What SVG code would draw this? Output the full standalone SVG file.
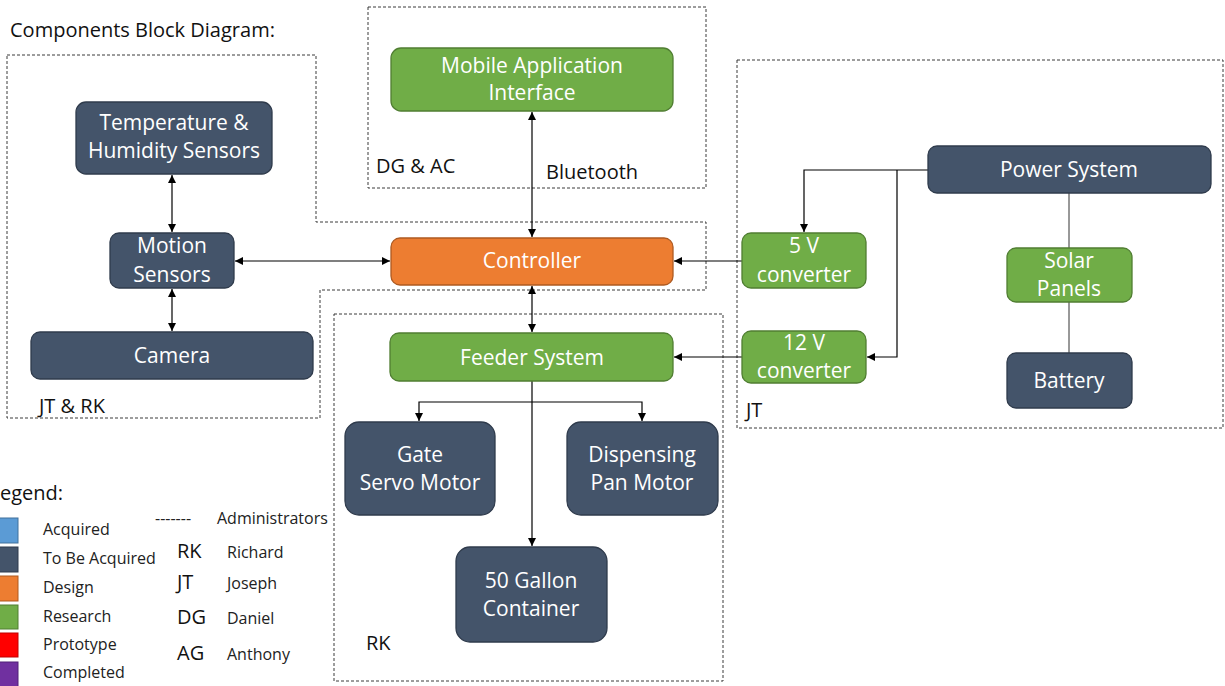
<svg xmlns="http://www.w3.org/2000/svg" width="1225" height="686" viewBox="0 0 1225 686">
  <style>
    .zone { fill: none; stroke: #3a3a3a; stroke-width: 1; stroke-dasharray: 3 2; }
    .node { stroke-width: 1.3; }
    .green { fill: #70AD47; stroke: #507E32; }
    .dark { fill: #44546A; stroke: #2F3B4C; }
    .orange { fill: #ED7D31; stroke: #AE5A21; }
    .nt { font-family: "Open Sans", "Liberation Sans", sans-serif; font-size: 21px; fill: #ffffff; text-anchor: middle; }
    .lbl { font-family: "Open Sans", "Liberation Sans", sans-serif; font-size: 20px; fill: #111111; }
    .leg { font-family: "Open Sans", "Liberation Sans", sans-serif; font-size: 16px; fill: #222222; }
    .abbr { font-family: "Open Sans", "Liberation Sans", sans-serif; font-size: 20px; fill: #111111; }
    .wire { fill: none; stroke: #000000; stroke-width: 1.2; }
    .plain { fill: none; stroke: #333333; stroke-width: 1; }
  </style>
  <defs>
    <marker id="arr" viewBox="0 0 10 10" refX="10" refY="5" markerWidth="8" markerHeight="8" markerUnits="userSpaceOnUse" orient="auto-start-reverse">
      <path d="M0,0 L10,5 L0,10 z" fill="#000000"/>
    </marker>
  </defs>

  <rect width="1225" height="686" fill="#ffffff"/>

  <text class="lbl" x="10" y="37">Components Block Diagram:</text>

  <!-- ownership zones -->
  <g id="zones">
    <path class="zone" d="M7,55 H316 V222 H706 V290 H320 V418 H7 Z"/>
    <rect class="zone" x="368" y="7" width="338" height="181"/>
    <rect class="zone" x="737" y="60" width="486" height="368"/>
    <rect class="zone" x="334" y="314" width="389" height="367"/>
    <text class="lbl" x="376" y="173">DG &amp; AC</text>
    <text class="lbl" x="546" y="179">Bluetooth</text>
    <text class="lbl" x="39" y="413">JT &amp; RK</text>
    <text class="lbl" x="746" y="417">JT</text>
    <text class="lbl" x="366" y="650">RK</text>
  </g>

  <!-- connectors -->
  <g id="connectors">
    <line class="wire" x1="532" y1="112" x2="532" y2="237" marker-start="url(#arr)" marker-end="url(#arr)"/>
    <line class="wire" x1="172" y1="175" x2="172" y2="232" marker-start="url(#arr)" marker-end="url(#arr)"/>
    <line class="wire" x1="172" y1="289" x2="172" y2="331" marker-start="url(#arr)" marker-end="url(#arr)"/>
    <line class="wire" x1="235" y1="261" x2="390" y2="261" marker-start="url(#arr)" marker-end="url(#arr)"/>
    <line class="wire" x1="742" y1="261" x2="674" y2="261" marker-end="url(#arr)"/>
    <line class="wire" x1="532" y1="286" x2="532" y2="332" marker-start="url(#arr)" marker-end="url(#arr)"/>
    <line class="wire" x1="742" y1="357" x2="674" y2="357" marker-end="url(#arr)"/>
    <polyline class="wire" points="928,170 804,170 804,232" marker-end="url(#arr)"/>
    <polyline class="wire" points="897,170 897,357 867,357" marker-end="url(#arr)"/>
    <line class="plain" x1="1069" y1="193" x2="1069" y2="248"/>
    <line class="plain" x1="1069" y1="302" x2="1069" y2="353"/>
    <line class="wire" x1="532" y1="381" x2="532" y2="546" marker-end="url(#arr)"/>
    <polyline class="wire" points="419,421 419,402 642,402 642,421" marker-start="url(#arr)" marker-end="url(#arr)"/>
  </g>

  <!-- components -->
  <g id="mobile-app">
    <rect class="node green" x="391" y="48" width="282" height="63" rx="10"/>
    <text class="nt" x="532" y="73">Mobile Application</text>
    <text class="nt" x="532" y="100">Interface</text>
  </g>
  <g id="controller">
    <rect class="node orange" x="391" y="238" width="282" height="47" rx="9"/>
    <text class="nt" x="532" y="268">Controller</text>
  </g>
  <g id="temp-humidity">
    <rect class="node dark" x="76" y="102" width="196" height="72" rx="10"/>
    <text class="nt" x="174" y="130">Temperature &amp;</text>
    <text class="nt" x="174" y="158">Humidity Sensors</text>
  </g>
  <g id="motion-sensors">
    <rect class="node dark" x="110" y="233" width="124" height="55" rx="9"/>
    <text class="nt" x="172" y="253">Motion</text>
    <text class="nt" x="172" y="282">Sensors</text>
  </g>
  <g id="camera">
    <rect class="node dark" x="31" y="332" width="282" height="47" rx="9"/>
    <text class="nt" x="172" y="363">Camera</text>
  </g>
  <g id="power-system">
    <rect class="node dark" x="928" y="146" width="283" height="47" rx="9"/>
    <text class="nt" x="1069" y="177">Power System</text>
  </g>
  <g id="conv-5v">
    <rect class="node green" x="742" y="233" width="124" height="55" rx="9"/>
    <text class="nt" x="804" y="253">5 V</text>
    <text class="nt" x="804" y="282">converter</text>
  </g>
  <g id="conv-12v">
    <rect class="node green" x="742" y="331" width="124" height="52" rx="9"/>
    <text class="nt" x="804" y="350">12 V</text>
    <text class="nt" x="804" y="378">converter</text>
  </g>
  <g id="solar-panels">
    <rect class="node green" x="1007" y="248" width="125" height="54" rx="9"/>
    <text class="nt" x="1069" y="268">Solar</text>
    <text class="nt" x="1069" y="296">Panels</text>
  </g>
  <g id="battery">
    <rect class="node dark" x="1007" y="353" width="125" height="55" rx="9"/>
    <text class="nt" x="1069" y="388">Battery</text>
  </g>
  <g id="feeder-system">
    <rect class="node green" x="390" y="333" width="283" height="48" rx="9"/>
    <text class="nt" x="532" y="365">Feeder System</text>
  </g>
  <g id="gate-servo">
    <rect class="node dark" x="345" y="422" width="150" height="93" rx="14"/>
    <text class="nt" x="420" y="462">Gate</text>
    <text class="nt" x="420" y="490">Servo Motor</text>
  </g>
  <g id="pan-motor">
    <rect class="node dark" x="567" y="422" width="151" height="93" rx="14"/>
    <text class="nt" x="642" y="462">Dispensing</text>
    <text class="nt" x="642" y="490">Pan Motor</text>
  </g>
  <g id="container">
    <rect class="node dark" x="456" y="547" width="151" height="95" rx="14"/>
    <text class="nt" x="531" y="588">50 Gallon</text>
    <text class="nt" x="531" y="616">Container</text>
  </g>

  <!-- legend -->
  <g id="legend">
    <text class="lbl" x="0" y="500">egend:</text>
    <rect x="-8" y="518" width="26" height="25" fill="#5B9BD5" stroke="#41719C"/>
    <rect x="-8" y="547" width="26" height="25" fill="#44546A" stroke="#2F3B4C"/>
    <rect x="-8" y="576" width="26" height="25" fill="#ED7D31" stroke="#AE5A21"/>
    <rect x="-8" y="605" width="26" height="24" fill="#70AD47" stroke="#507E32"/>
    <rect x="-8" y="633" width="26" height="24" fill="#FF0000" stroke="#C00000"/>
    <rect x="-8" y="662" width="26" height="25" fill="#7030A0" stroke="#502078"/>
    <text class="leg" x="43" y="535">Acquired</text>
    <text class="leg" x="43" y="564">To Be Acquired</text>
    <text class="leg" x="43" y="593">Design</text>
    <text class="leg" x="43" y="622">Research</text>
    <text class="leg" x="43" y="650">Prototype</text>
    <text class="leg" x="43" y="678">Completed</text>
    <text class="leg" x="155" y="524">-------</text>
    <text class="leg" x="217" y="524">Administrators</text>
    <text class="abbr" x="177" y="558">RK</text>
    <text class="abbr" x="177" y="589">JT</text>
    <text class="abbr" x="177" y="624">DG</text>
    <text class="abbr" x="177" y="660">AG</text>
    <text class="leg" x="227" y="558">Richard</text>
    <text class="leg" x="227" y="589">Joseph</text>
    <text class="leg" x="227" y="624">Daniel</text>
    <text class="leg" x="227" y="660">Anthony</text>
  </g>
</svg>
